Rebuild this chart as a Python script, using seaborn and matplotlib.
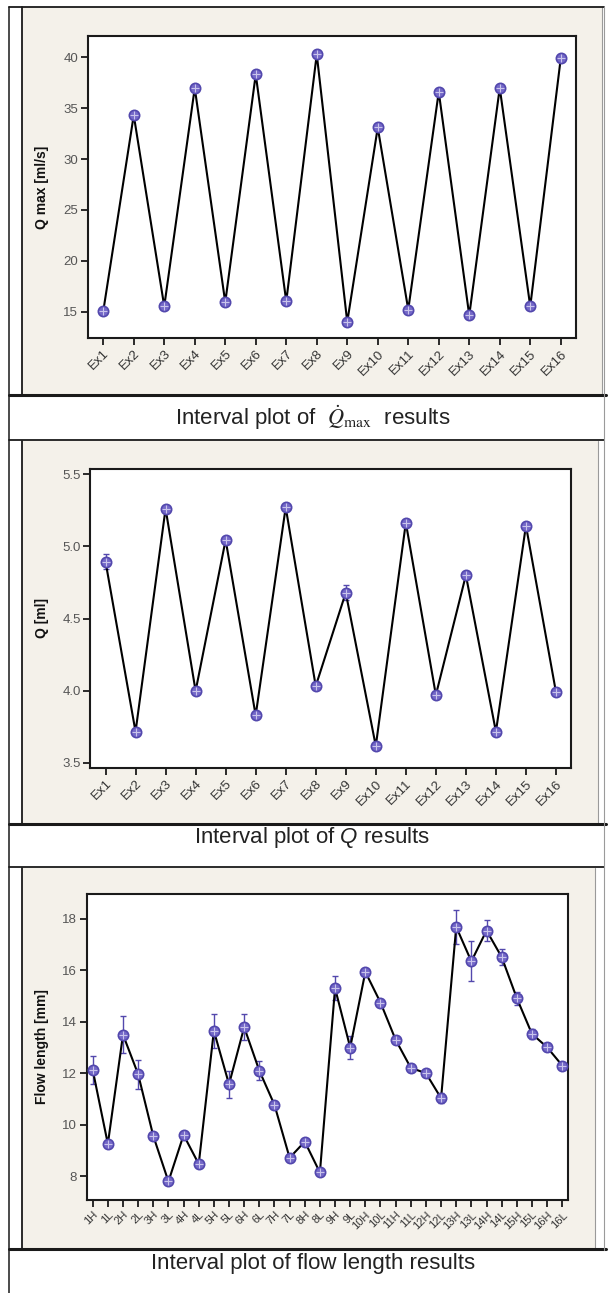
import numpy as np
import seaborn as sns
import matplotlib.pyplot as plt
from matplotlib.lines import Line2D
from matplotlib.patches import Rectangle

# datos
ex_labels = ['Ex1', 'Ex2', 'Ex3', 'Ex4', 'Ex5', 'Ex6', 'Ex7', 'Ex8',
             'Ex9', 'Ex10', 'Ex11', 'Ex12', 'Ex13', 'Ex14', 'Ex15', 'Ex16']

qmax_vals = [15.07, 34.3, 15.55, 36.97, 15.95, 38.3, 16.04, 40.26,
             14.02, 33.09, 15.23, 36.58, 14.67, 36.97, 15.55, 39.87]
qmax_err = [0.2, 0.25, 0.2, 0.25, 0.2, 0.3, 0.2, 0.25,
            0.2, 0.3, 0.2, 0.25, 0.2, 0.25, 0.2, 0.2]

q_vals = [4.894, 3.716, 5.261, 3.998, 5.044, 3.829, 5.27, 4.032,
          4.679, 3.617, 5.164, 3.97, 4.80, 3.716, 5.143, 3.99]
q_err = [0.05, 0.012, 0.015, 0.012, 0.02, 0.02, 0.015, 0.015,
         0.05, 0.012, 0.015, 0.02, 0.012, 0.012, 0.015, 0.012]

flow_labels = ['1H', '1L', '2H', '2L', '3H', '3L', '4H', '4L',
               '5H', '5L', '6H', '6L', '7H', '7L', '8H', '8L',
               '9H', '9L', '10H', '10L', '11H', '11L', '12H', '12L',
               '13H', '13L', '14H', '14L', '15H', '15L', '16H', '16L']
flow_vals = [12.13, 9.25, 13.5, 11.96, 9.56, 7.79, 9.6, 8.47,
             13.65, 11.57, 13.79, 12.1, 10.77, 8.71, 9.34, 8.14,
             15.31, 13.0, 15.94, 14.75, 13.3, 12.21, 12.0, 11.03,
             17.69, 16.35, 17.55, 16.52, 14.92, 13.53, 13.01, 12.3]
flow_err = [0.55, 0.1, 0.73, 0.57, 0.1, 0.1, 0.1, 0.12,
            0.67, 0.52, 0.5, 0.38, 0.15, 0.15, 0.1, 0.1,
            0.47, 0.44, 0.1, 0.15, 0.15, 0.15, 0.1, 0.2,
            0.65, 0.78, 0.4, 0.3, 0.25, 0.2, 0.15, 0.1]

sns.set_theme(style='white')
plt.rcParams['font.family'] = ['Liberation Sans', 'DejaVu Sans']
plt.rcParams['mathtext.fontset'] = 'custom'
plt.rcParams['mathtext.rm'] = 'Liberation Sans'
plt.rcParams['mathtext.it'] = 'Liberation Sans:italic'

W, H = 610, 1293
PURPLE = '#5348ad'
FILL = '#7468c8'
BEIGE = '#f4f1ea'

fig = plt.figure(figsize=(W / 100, H / 100), dpi=100)
fig.patch.set_facecolor('white')


def fx(x):
    return x / W


def fy(y):
    return 1 - y / H


def hline(y, x0, x1, lw=1.5, color='#1a1a1a'):
    fig.add_artist(Line2D([fx(x0), fx(x1)], [fy(y), fy(y)], transform=fig.transFigure,
                          color=color, lw=lw))


def vline(x, y0, y1, lw=1.5, color='#1a1a1a'):
    fig.add_artist(Line2D([fx(x), fx(x)], [fy(y0), fy(y1)], transform=fig.transFigure,
                          color=color, lw=lw))


# marcos beige de cada panel
for (x0, y0, x1, y1) in [(22, 7, 602, 395), (22, 441, 598, 824), (22, 868, 595, 1249)]:
    fig.add_artist(Rectangle((fx(x0), fy(y1)), fx(x1) - fx(x0), fy(y0) - fy(y1),
                             transform=fig.transFigure, facecolor=BEIGE,
                             edgecolor='none', zorder=-5))
    vline(x0, y0, y1, lw=1.3)
    vline(x1, y0, y1, lw=0.8, color='#9a9a9a')
    hline(y1, 9, 606, lw=2.2)

hline(7, 9, 604, lw=1.3)
hline(440, 9, 604, lw=1.3)
hline(867, 9, 604, lw=1.3)
vline(9, 7, 1293, lw=1.1)
vline(604, 7, 1250, lw=0.8, color='#9a9a9a')


def panel(box, labels, vals, errs, ylabel, yticks, ylim, xlim, fmt, xsize):
    x0, y0, x1, y1 = box
    ax = fig.add_axes([fx(x0), fy(y1), fx(x1) - fx(x0), fy(y0) - fy(y1)])
    ax.set_facecolor('white')
    x = np.arange(len(labels))
    ax.errorbar(x, vals, yerr=errs, fmt='none', ecolor=PURPLE, elinewidth=1,
                capsize=2.2, capthick=1, zorder=2)
    sns.lineplot(x=x, y=vals, color='black', lw=1.5, ax=ax, zorder=3)
    sns.scatterplot(x=x, y=vals, s=55, color=FILL, edgecolor=PURPLE, linewidth=1.2,
                    ax=ax, zorder=4)
    sns.scatterplot(x=x, y=vals, marker='+', s=28, color='#c9c4ec', linewidth=0.8,
                    ax=ax, zorder=5)
    ax.set_xlim(*xlim)
    ax.set_ylim(*ylim)
    ax.set_xticks(x)
    ax.set_xticklabels(labels, rotation=45, ha='right', rotation_mode='anchor',
                       fontsize=xsize, color='#333333')
    ax.set_yticks(yticks)
    ax.set_yticklabels([fmt.format(t) for t in yticks], fontsize=9.5, color='#555555')
    ax.tick_params(axis='both', direction='out', length=5, width=1.3, color='#1a1a1a',
                   bottom=True, left=True, pad=2)
    for s in ax.spines.values():
        s.set_color('#1a1a1a')
        s.set_linewidth(1.5)
    ax.set_xlabel('')
    ax.set_ylabel(ylabel, fontsize=10, fontweight='bold', color='#111111')
    ax.yaxis.set_label_coords(-(x0 - 49) / (x1 - x0), 0.5)
    return ax


panel((88, 36, 576, 338), ex_labels, qmax_vals, qmax_err, 'Q max [ml/s]',
      [15, 20, 25, 30, 35, 40], (12.45, 42.06), (-0.5, 15.5), '{:g}', 9.5)
panel((90.5, 469, 571, 768), ex_labels, q_vals, q_err, 'Q [ml]',
      [3.5, 4.0, 4.5, 5.0, 5.5], (3.465, 5.535), (-0.5, 15.5), '{:.1f}', 9.5)
panel((86.5, 894, 568, 1200), flow_labels, flow_vals, flow_err, 'Flow length [mm]',
      [8, 10, 12, 14, 16, 18], (7.07, 18.97), (-0.41, 31.38), '{:g}', 8)

# titulos debajo de cada panel
fig.text(0.513, fy(418), r'Interval plot of  $\dot{Q}_{\max}$  results', ha='center',
         va='center', fontsize=16, color='#222222', math_fontfamily='stix')
fig.text(0.512, fy(838), 'Interval plot of $Q$ results', ha='center', va='center',
         fontsize=16, color='#222222')
fig.text(0.513, fy(1264), 'Interval plot of flow length results', ha='center',
         va='center', fontsize=16, color='#222222')

fig.savefig('out.png', dpi=100)
